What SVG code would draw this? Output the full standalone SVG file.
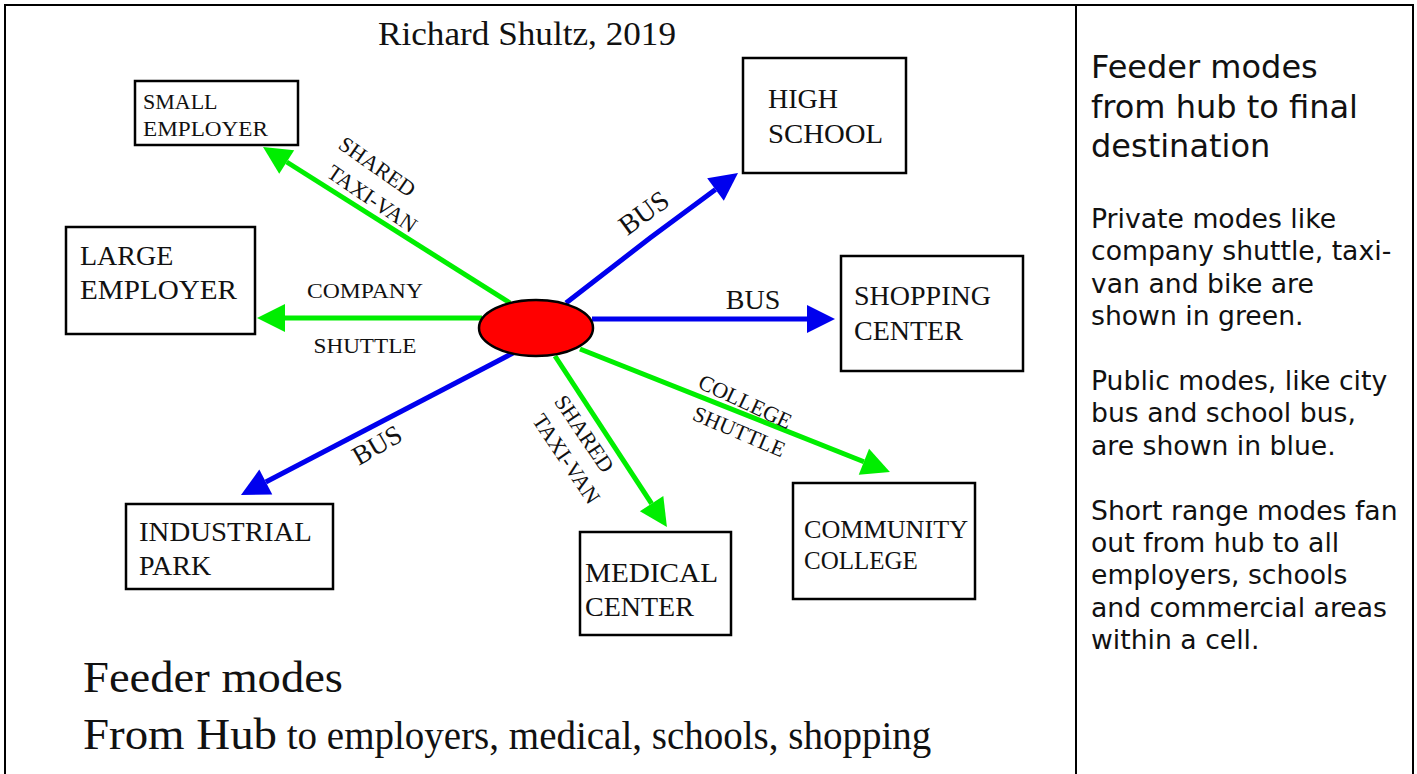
<svg xmlns="http://www.w3.org/2000/svg" width="1417" height="774" viewBox="0 0 1417 774">
  <style>
    .frame { fill: none; stroke: #000; stroke-width: 2; }
    .box { fill: #fff; stroke: #000; stroke-width: 2.5; }
    .serif { font-family: "Liberation Serif", "Times New Roman", serif; fill: #111; }
    .big { font-size: 28px; }
    .small { font-size: 22px; }
    .lbl { font-size: 22px; }
    .green { fill: none; stroke: #00ee00; stroke-width: 5; }
    .blue { fill: none; stroke: #0000ee; stroke-width: 5; }
    .side { font-family: "DejaVu Sans", Verdana, sans-serif; fill: #111; }
    .head { font-size: 32px; }
    .body { font-size: 26.67px; }
  </style>
  <defs>
    <marker id="ah-green" markerUnits="userSpaceOnUse" markerWidth="30" markerHeight="30" refX="0" refY="14" orient="auto" overflow="visible">
      <path d="M0,0 L28,14 L0,28 z" fill="#00ee00"/>
    </marker>
    <marker id="ah-blue" markerUnits="userSpaceOnUse" markerWidth="30" markerHeight="30" refX="0" refY="14" orient="auto" overflow="visible">
      <path d="M0,0 L28,14 L0,28 z" fill="#0000ee"/>
    </marker>
  </defs>

  <rect width="1417" height="774" fill="#fff"/>

  <!-- table frame: two cells, open at the bottom -->
  <g id="frame">
    <path class="frame" d="M5,780 V5 H1413 V780"/>
    <line class="frame" x1="1076" y1="5" x2="1076" y2="780"/>
  </g>

  <text id="credit" class="serif" x="378" y="45" font-size="34" textLength="298" lengthAdjust="spacingAndGlyphs">Richard Shultz, 2019</text>

  <!-- connectors from the hub -->
  <g id="connectors">
    <line class="green" x1="510" y1="303" x2="286.7" y2="162" marker-end="url(#ah-green)"/>
    <line class="green" x1="482" y1="318" x2="285" y2="318" marker-end="url(#ah-green)"/>
    <line class="blue" x1="592" y1="319" x2="807" y2="319" marker-end="url(#ah-blue)"/>
    <polyline class="blue" points="566,303 650,238 715.5,189.6" marker-end="url(#ah-blue)"/>
    <line class="blue" x1="513" y1="353" x2="265.8" y2="482" marker-end="url(#ah-blue)"/>
    <line class="green" x1="555" y1="356" x2="651.6" y2="503.6" marker-end="url(#ah-green)"/>
    <line class="green" x1="580" y1="349" x2="863.9" y2="461.7" marker-end="url(#ah-green)"/>

    <!-- mode labels -->
    <g class="serif lbl" text-anchor="middle">
      <text transform="translate(377,167) rotate(35)" y="7">SHARED</text>
      <text transform="translate(372,199) rotate(34)" y="7">TAXI-VAN</text>
      <text x="365" y="298" text-anchor="middle" textLength="116" lengthAdjust="spacingAndGlyphs">COMPANY</text>
      <text x="365" y="353" text-anchor="middle" textLength="103" lengthAdjust="spacingAndGlyphs">SHUTTLE</text>
      <text x="753" y="309" font-size="28">BUS</text>
      <text transform="translate(644,213) rotate(-36)" y="9" font-size="28">BUS</text>
      <text transform="translate(377,445) rotate(-30)" y="9" font-size="27">BUS</text>
      <text transform="translate(584,434) rotate(56)" y="7">SHARED</text>
      <text transform="translate(566,459) rotate(56)" y="7">TAXI-VAN</text>
      <text transform="translate(745,402) rotate(25)" y="7">COLLEGE</text>
      <text transform="translate(739,432) rotate(23)" y="7">SHUTTLE</text>
    </g>
  </g>

  <!-- hub -->
  <g id="hub">
    <ellipse cx="536" cy="328" rx="57" ry="28" fill="#ff0000" stroke="#000" stroke-width="2.5"/>
  </g>

  <!-- destinations -->
  <g id="small-employer">
    <rect class="box" x="135" y="81" width="163" height="64"/>
    <text class="serif small" x="143" y="109">SMALL</text>
    <text class="serif small" x="143" y="136" textLength="125" lengthAdjust="spacingAndGlyphs">EMPLOYER</text>
  </g>
  <g id="large-employer">
    <rect class="box" x="66" y="227" width="189" height="107"/>
    <text class="serif big" x="80" y="265">LARGE</text>
    <text class="serif big" x="80" y="299" textLength="157" lengthAdjust="spacingAndGlyphs">EMPLOYER</text>
  </g>
  <g id="high-school">
    <rect class="box" x="743" y="58" width="163" height="115"/>
    <text class="serif big" x="768" y="108">HIGH</text>
    <text class="serif big" x="768" y="143" textLength="115" lengthAdjust="spacingAndGlyphs">SCHOOL</text>
  </g>
  <g id="shopping-center">
    <rect class="box" x="841" y="256" width="182" height="115"/>
    <text class="serif big" x="854" y="305">SHOPPING</text>
    <text class="serif big" x="854" y="340">CENTER</text>
  </g>
  <g id="industrial-park">
    <rect class="box" x="126" y="504" width="207" height="85"/>
    <text class="serif big" x="139" y="541" textLength="173" lengthAdjust="spacingAndGlyphs">INDUSTRIAL</text>
    <text class="serif big" x="139" y="575">PARK</text>
  </g>
  <g id="medical-center">
    <rect class="box" x="580" y="532" width="151" height="103"/>
    <text class="serif big" x="585" y="582" textLength="133" lengthAdjust="spacingAndGlyphs">MEDICAL</text>
    <text class="serif big" x="585" y="616">CENTER</text>
  </g>
  <g id="community-college">
    <rect class="box" x="793" y="483" width="182" height="116"/>
    <text class="serif" font-size="25" x="804" y="538" textLength="164" lengthAdjust="spacingAndGlyphs">COMMUNITY</text>
    <text class="serif" font-size="25" x="804" y="569">COLLEGE</text>
  </g>

  <!-- caption under the diagram -->
  <g id="caption" class="serif">
    <text x="83" y="692" font-size="45" textLength="260" lengthAdjust="spacingAndGlyphs">Feeder modes</text>
    <text x="83" y="749" font-size="45"><tspan textLength="194" lengthAdjust="spacingAndGlyphs">From Hub</tspan><tspan font-size="39"> to employers, medical, schools, shopping</tspan></text>
  </g>

  <!-- side notes -->
  <g id="notes" class="side">
    <text class="head" x="1091" y="78">Feeder modes</text>
    <text class="head" x="1091" y="118">from hub to final</text>
    <text class="head" x="1091" y="157">destination</text>
    <text class="body" x="1091" y="228">Private modes like</text>
    <text class="body" x="1091" y="260">company shuttle, taxi-</text>
    <text class="body" x="1091" y="293">van and bike are</text>
    <text class="body" x="1091" y="325">shown in green.</text>
    <text class="body" x="1091" y="390">Public modes, like city</text>
    <text class="body" x="1091" y="422">bus and school bus,</text>
    <text class="body" x="1091" y="455">are shown in blue.</text>
    <text class="body" x="1091" y="520">Short range modes fan</text>
    <text class="body" x="1091" y="552">out from hub to all</text>
    <text class="body" x="1091" y="584">employers, schools</text>
    <text class="body" x="1091" y="617">and commercial areas</text>
    <text class="body" x="1091" y="649">within a cell.</text>
  </g>
</svg>
